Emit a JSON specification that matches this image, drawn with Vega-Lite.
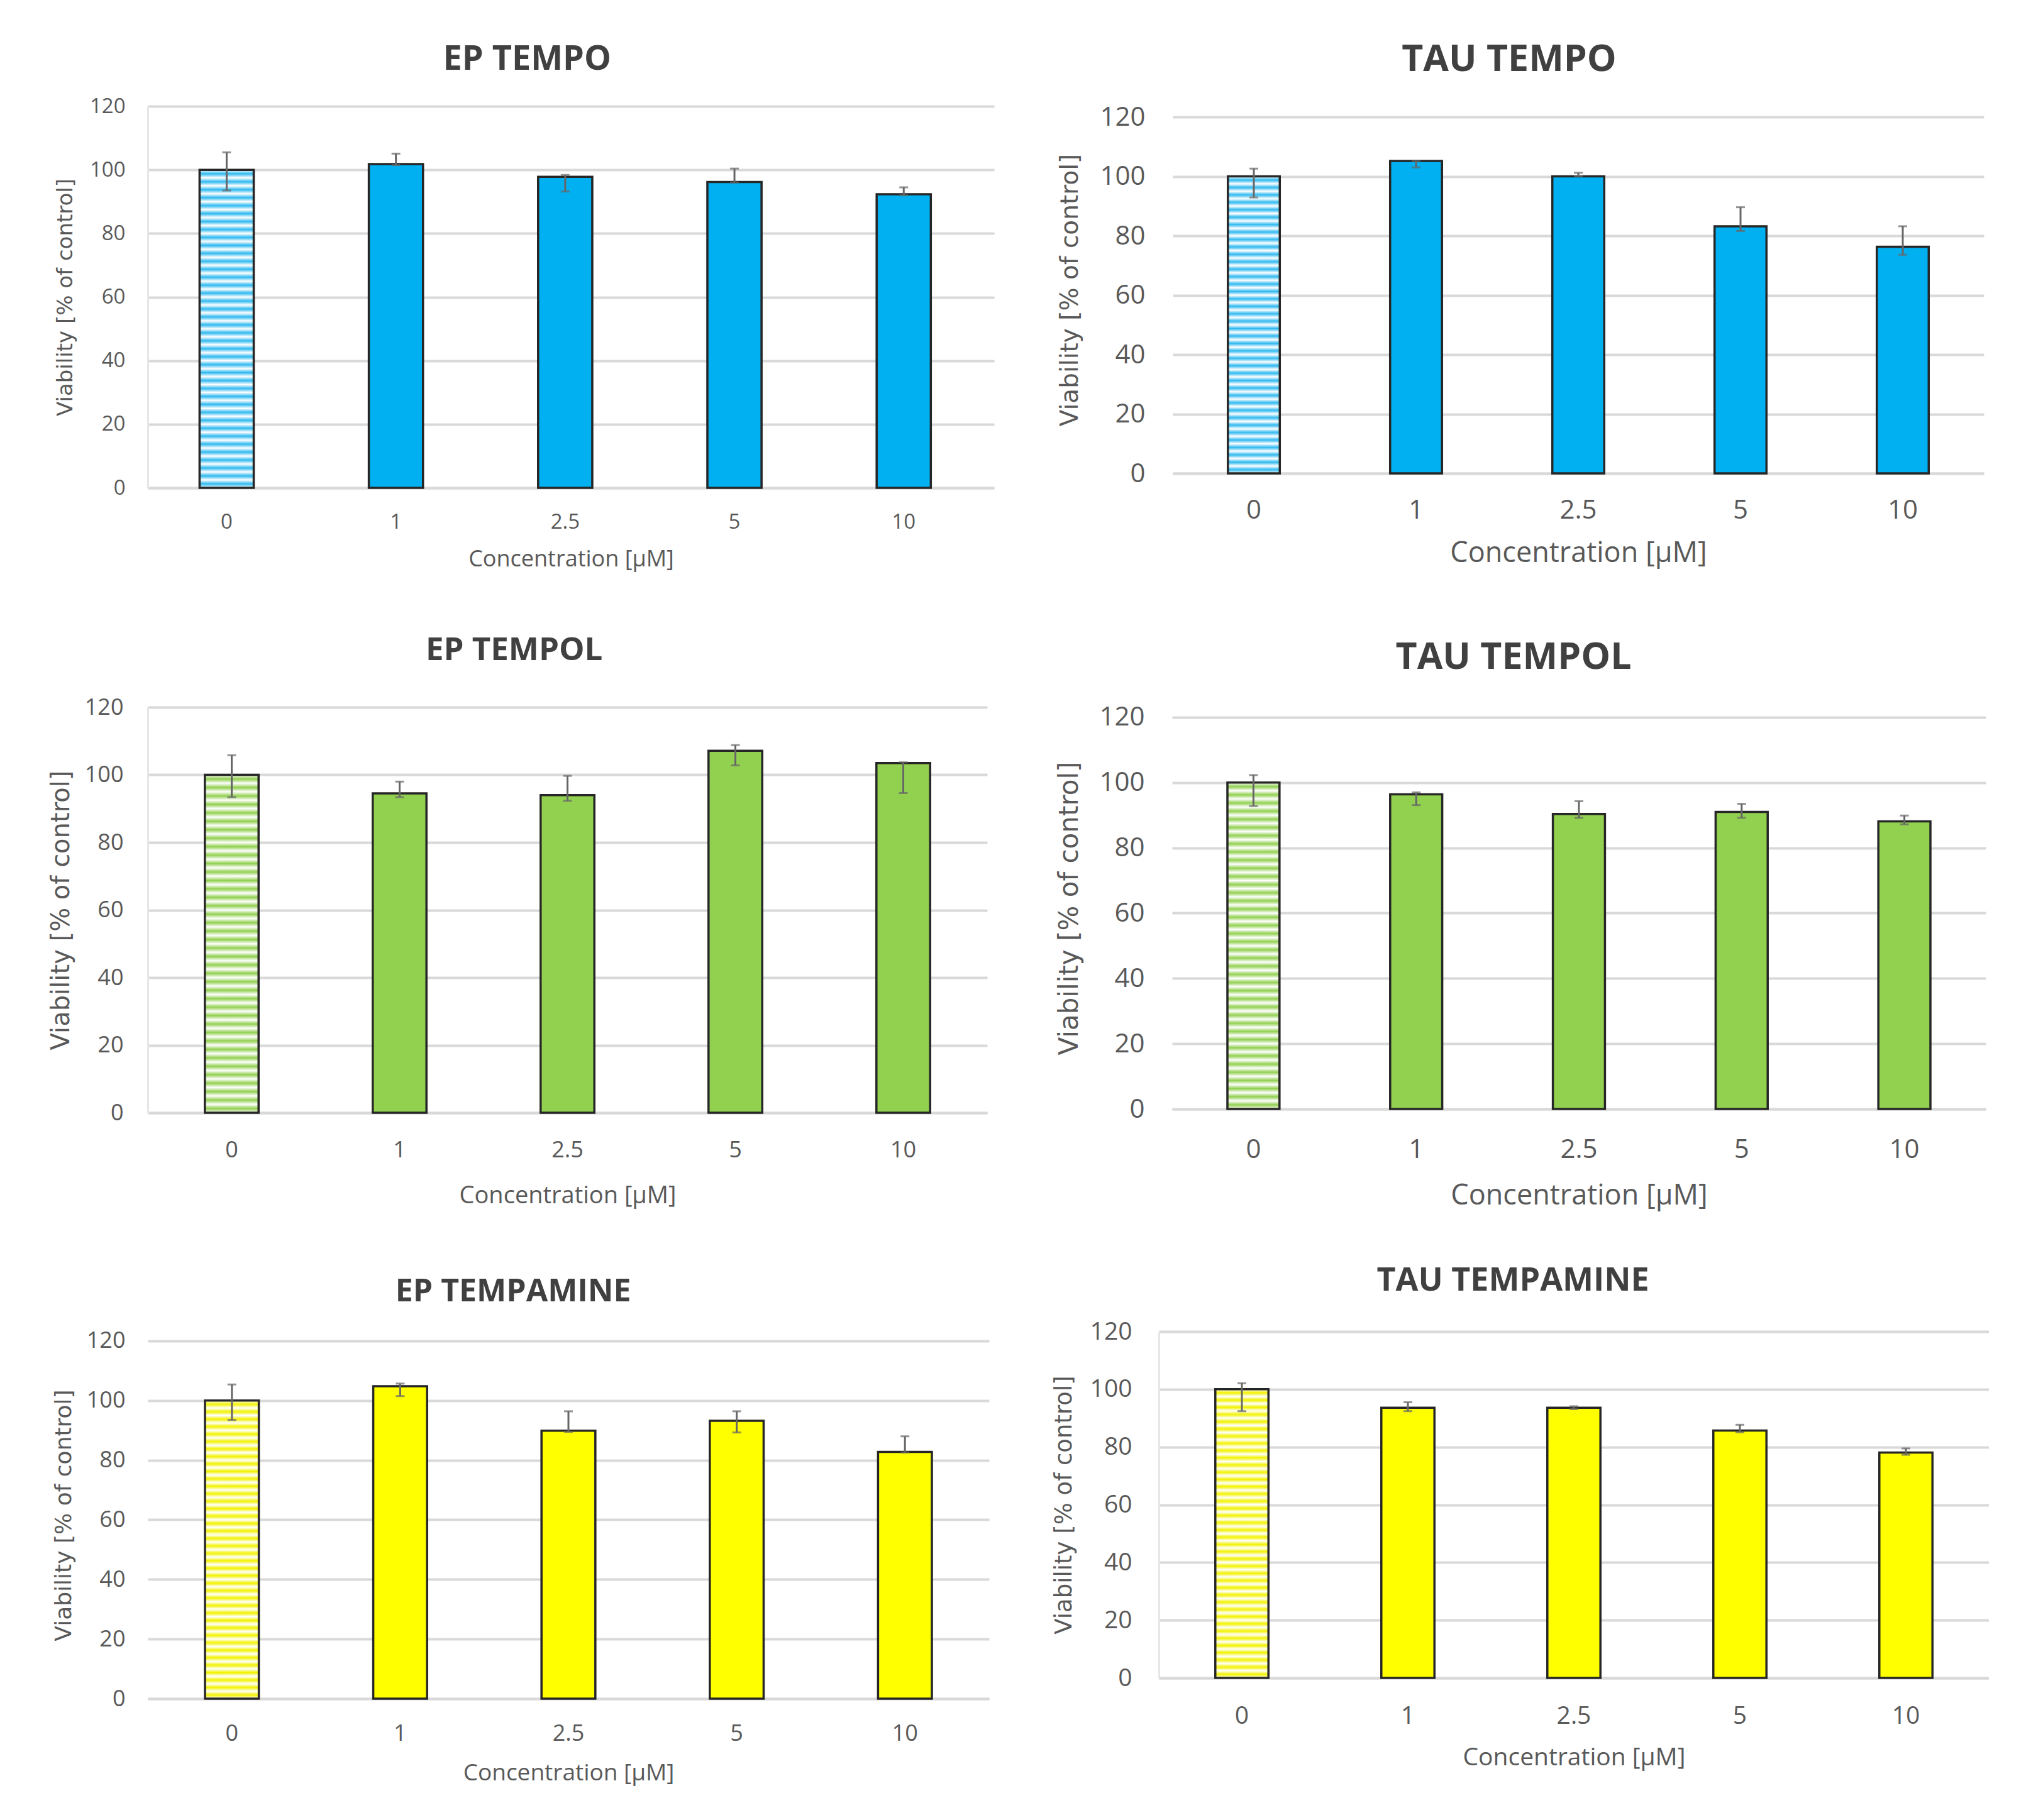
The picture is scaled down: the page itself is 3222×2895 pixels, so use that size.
{
  "$schema": "https://vega.github.io/schema/vega-lite/v6.json",
  "background": "white",
  "padding": {"left": 77, "top": 66, "right": 0, "bottom": 24},
  "datasets": {
    "viability": [
      {"panel": "EP TEMPO", "conc": "0", "value": 100, "lo": 93.5, "hi": 105.5},
      {"panel": "EP TEMPO", "conc": "1", "value": 101.8, "lo": 101.5, "hi": 105.1},
      {"panel": "EP TEMPO", "conc": "2.5", "value": 97.8, "lo": 93.2, "hi": 98.4},
      {"panel": "EP TEMPO", "conc": "5", "value": 96.2, "lo": 96.0, "hi": 100.4},
      {"panel": "EP TEMPO", "conc": "10", "value": 92.3, "lo": 92.0, "hi": 94.5},
      {"panel": "TAU TEMPO", "conc": "0", "value": 100, "lo": 92.9, "hi": 102.6},
      {"panel": "TAU TEMPO", "conc": "1", "value": 105.2, "lo": 103.0, "hi": 105.2},
      {"panel": "TAU TEMPO", "conc": "2.5", "value": 100, "lo": 100, "hi": 101.2},
      {"panel": "TAU TEMPO", "conc": "5", "value": 83.2, "lo": 81.6, "hi": 89.6},
      {"panel": "TAU TEMPO", "conc": "10", "value": 76.3, "lo": 73.6, "hi": 83.2},
      {"panel": "EP TEMPOL", "conc": "0", "value": 100, "lo": 93.4, "hi": 105.8},
      {"panel": "EP TEMPOL", "conc": "1", "value": 94.5, "lo": 93.4, "hi": 98.0},
      {"panel": "EP TEMPOL", "conc": "2.5", "value": 94.0, "lo": 92.3, "hi": 99.7},
      {"panel": "EP TEMPOL", "conc": "5", "value": 107.1, "lo": 102.8, "hi": 108.8},
      {"panel": "EP TEMPOL", "conc": "10", "value": 103.5, "lo": 94.6, "hi": 103.7},
      {"panel": "TAU TEMPOL", "conc": "0", "value": 100, "lo": 92.8, "hi": 102.3},
      {"panel": "TAU TEMPOL", "conc": "1", "value": 96.4, "lo": 93.1, "hi": 97.0},
      {"panel": "TAU TEMPOL", "conc": "2.5", "value": 90.4, "lo": 89.2, "hi": 94.3},
      {"panel": "TAU TEMPOL", "conc": "5", "value": 91.0, "lo": 89.2, "hi": 93.5},
      {"panel": "TAU TEMPOL", "conc": "10", "value": 88.1, "lo": 87.2, "hi": 89.9},
      {"panel": "EP TEMPAMINE", "conc": "0", "value": 100, "lo": 93.5, "hi": 105.4},
      {"panel": "EP TEMPAMINE", "conc": "1", "value": 104.8, "lo": 101.5, "hi": 105.7},
      {"panel": "EP TEMPAMINE", "conc": "2.5", "value": 89.9, "lo": 89.5, "hi": 96.4},
      {"panel": "EP TEMPAMINE", "conc": "5", "value": 93.2, "lo": 89.3, "hi": 96.4},
      {"panel": "EP TEMPAMINE", "conc": "10", "value": 82.8, "lo": 82.6, "hi": 88.0},
      {"panel": "TAU TEMPAMINE", "conc": "0", "value": 100, "lo": 92.4, "hi": 102.1},
      {"panel": "TAU TEMPAMINE", "conc": "1", "value": 93.6, "lo": 92.4, "hi": 95.5},
      {"panel": "TAU TEMPAMINE", "conc": "2.5", "value": 93.6, "lo": 93.1, "hi": 94.1},
      {"panel": "TAU TEMPAMINE", "conc": "5", "value": 85.7, "lo": 85.1, "hi": 87.7},
      {"panel": "TAU TEMPAMINE", "conc": "10", "value": 78.1, "lo": 77.3, "hi": 79.5}
    ]
  },
  "data": {"name": "viability"},
  "columns": 1,
  "align": "none",
  "spacing": 102,
  "concat": [
    {
      "spacing": 101,
      "hconcat": [
        {
          "width": 1346, "height": 607,
          "title": {"text": "EP TEMPO", "fontSize": 54, "offset": 31, "dx": 4},
          "transform": [{"filter": "datum.panel == 'EP TEMPO'"}],
          "encoding": {
            "x": {"field": "conc", "type": "ordinal", "sort": ["0", "1", "2.5", "5", "10"],
              "scale": {"paddingInner": 0.68, "paddingOuter": 0.34, "align": 0.45},
              "axis": {"title": "Concentration [µM]", "labelFontSize": 33, "labelPadding": 38, "titleFontSize": 36, "titlePadding": 25}}
          },
          "layer": [
            {
              "transform": [{"filter": "datum.conc == '0'"}],
              "mark": {"type": "bar", "stroke": "#262626", "strokeWidth": 3.5,
                "fill": {"gradient": "linear", "x1": 0, "y1": 0, "x2": 0, "y2": 1, "stops": [
                  {"offset": 0, "color": "#ffffff"}, {"offset": 0.0125, "color": "#2fb9f0"}, {"offset": 0.025, "color": "#ffffff"}, {"offset": 0.0375, "color": "#2fb9f0"}, {"offset": 0.05, "color": "#ffffff"}, {"offset": 0.0625, "color": "#2fb9f0"}, {"offset": 0.075, "color": "#ffffff"}, {"offset": 0.0875, "color": "#2fb9f0"}, {"offset": 0.1, "color": "#ffffff"}, {"offset": 0.1125, "color": "#2fb9f0"}, {"offset": 0.125, "color": "#ffffff"}, {"offset": 0.1375, "color": "#2fb9f0"}, {"offset": 0.15, "color": "#ffffff"}, {"offset": 0.1625, "color": "#2fb9f0"}, {"offset": 0.175, "color": "#ffffff"}, {"offset": 0.1875, "color": "#2fb9f0"}, {"offset": 0.2, "color": "#ffffff"}, {"offset": 0.2125, "color": "#2fb9f0"}, {"offset": 0.225, "color": "#ffffff"}, {"offset": 0.2375, "color": "#2fb9f0"}, {"offset": 0.25, "color": "#ffffff"}, {"offset": 0.2625, "color": "#2fb9f0"}, {"offset": 0.275, "color": "#ffffff"}, {"offset": 0.2875, "color": "#2fb9f0"}, {"offset": 0.3, "color": "#ffffff"}, {"offset": 0.3125, "color": "#2fb9f0"}, {"offset": 0.325, "color": "#ffffff"}, {"offset": 0.3375, "color": "#2fb9f0"}, {"offset": 0.35, "color": "#ffffff"}, {"offset": 0.3625, "color": "#2fb9f0"}, {"offset": 0.375, "color": "#ffffff"}, {"offset": 0.3875, "color": "#2fb9f0"}, {"offset": 0.4, "color": "#ffffff"}, {"offset": 0.4125, "color": "#2fb9f0"}, {"offset": 0.425, "color": "#ffffff"}, {"offset": 0.4375, "color": "#2fb9f0"}, {"offset": 0.45, "color": "#ffffff"}, {"offset": 0.4625, "color": "#2fb9f0"}, {"offset": 0.475, "color": "#ffffff"}, {"offset": 0.4875, "color": "#2fb9f0"}, {"offset": 0.5, "color": "#ffffff"}, {"offset": 0.5125, "color": "#2fb9f0"}, {"offset": 0.525, "color": "#ffffff"}, {"offset": 0.5375, "color": "#2fb9f0"}, {"offset": 0.55, "color": "#ffffff"}, {"offset": 0.5625, "color": "#2fb9f0"}, {"offset": 0.575, "color": "#ffffff"}, {"offset": 0.5875, "color": "#2fb9f0"}, {"offset": 0.6, "color": "#ffffff"}, {"offset": 0.6125, "color": "#2fb9f0"}, {"offset": 0.625, "color": "#ffffff"}, {"offset": 0.6375, "color": "#2fb9f0"}, {"offset": 0.65, "color": "#ffffff"}, {"offset": 0.6625, "color": "#2fb9f0"}, {"offset": 0.675, "color": "#ffffff"}, {"offset": 0.6875, "color": "#2fb9f0"}, {"offset": 0.7, "color": "#ffffff"}, {"offset": 0.7125, "color": "#2fb9f0"}, {"offset": 0.725, "color": "#ffffff"}, {"offset": 0.7375, "color": "#2fb9f0"}, {"offset": 0.75, "color": "#ffffff"}, {"offset": 0.7625, "color": "#2fb9f0"}, {"offset": 0.775, "color": "#ffffff"}, {"offset": 0.7875, "color": "#2fb9f0"}, {"offset": 0.8, "color": "#ffffff"}, {"offset": 0.8125, "color": "#2fb9f0"}, {"offset": 0.825, "color": "#ffffff"}, {"offset": 0.8375, "color": "#2fb9f0"}, {"offset": 0.85, "color": "#ffffff"}, {"offset": 0.8625, "color": "#2fb9f0"}, {"offset": 0.875, "color": "#ffffff"}, {"offset": 0.8875, "color": "#2fb9f0"}, {"offset": 0.9, "color": "#ffffff"}, {"offset": 0.9125, "color": "#2fb9f0"}, {"offset": 0.925, "color": "#ffffff"}, {"offset": 0.9375, "color": "#2fb9f0"}, {"offset": 0.95, "color": "#ffffff"}, {"offset": 0.9625, "color": "#2fb9f0"}, {"offset": 0.975, "color": "#ffffff"}, {"offset": 0.9875, "color": "#2fb9f0"}, {"offset": 1, "color": "#ffffff"}]}},
              "encoding": {"y": {"field": "value", "type": "quantitative", "title": "Viability [% of control]", "scale": {"domain": [0, 120], "nice": false},
                "axis": {"values": [0, 20, 40, 60, 80, 100, 120], "labelFontSize": 33, "labelPadding": 36, "titleFontSize": 34, "titlePadding": 21}}}
            },
            {
              "transform": [{"filter": "datum.conc != '0'"}],
              "mark": {"type": "bar", "fill": "#00b0f0", "stroke": "#262626", "strokeWidth": 3.5},
              "encoding": {"y": {"field": "value", "type": "quantitative", "title": "Viability [% of control]"}}
            },
            {
              "mark": {"type": "rule", "color": "#666666", "strokeWidth": 3},
              "encoding": {"y": {"field": "lo", "type": "quantitative", "title": "Viability [% of control]"}, "y2": {"field": "hi"}}
            },
            {
              "mark": {"type": "tick", "color": "#666666", "thickness": 3, "size": 14},
              "encoding": {"y": {"field": "lo", "type": "quantitative", "title": "Viability [% of control]"}}
            },
            {
              "mark": {"type": "tick", "color": "#666666", "thickness": 3, "size": 14},
              "encoding": {"y": {"field": "hi", "type": "quantitative", "title": "Viability [% of control]"}}
            }
          ]
        },
        {
          "width": 1290, "height": 584,
          "title": {"text": "TAU TEMPO", "fontSize": 59, "offset": 40, "dx": -19},
          "transform": [{"filter": "datum.panel == 'TAU TEMPO'"}],
          "encoding": {
            "x": {"field": "conc", "type": "ordinal", "sort": ["0", "1", "2.5", "5", "10"],
              "scale": {"paddingInner": 0.68, "paddingOuter": 0.34},
              "axis": {"title": "Concentration [µM]", "labelFontSize": 42, "labelPadding": 38, "titleFontSize": 45, "titlePadding": 25}}
          },
          "layer": [
            {
              "transform": [{"filter": "datum.conc == '0'"}],
              "mark": {"type": "bar", "stroke": "#262626", "strokeWidth": 3.5,
                "fill": {"gradient": "linear", "x1": 0, "y1": 0, "x2": 0, "y2": 1, "stops": [
                  {"offset": 0, "color": "#ffffff"}, {"offset": 0.0125, "color": "#2fb9f0"}, {"offset": 0.025, "color": "#ffffff"}, {"offset": 0.0375, "color": "#2fb9f0"}, {"offset": 0.05, "color": "#ffffff"}, {"offset": 0.0625, "color": "#2fb9f0"}, {"offset": 0.075, "color": "#ffffff"}, {"offset": 0.0875, "color": "#2fb9f0"}, {"offset": 0.1, "color": "#ffffff"}, {"offset": 0.1125, "color": "#2fb9f0"}, {"offset": 0.125, "color": "#ffffff"}, {"offset": 0.1375, "color": "#2fb9f0"}, {"offset": 0.15, "color": "#ffffff"}, {"offset": 0.1625, "color": "#2fb9f0"}, {"offset": 0.175, "color": "#ffffff"}, {"offset": 0.1875, "color": "#2fb9f0"}, {"offset": 0.2, "color": "#ffffff"}, {"offset": 0.2125, "color": "#2fb9f0"}, {"offset": 0.225, "color": "#ffffff"}, {"offset": 0.2375, "color": "#2fb9f0"}, {"offset": 0.25, "color": "#ffffff"}, {"offset": 0.2625, "color": "#2fb9f0"}, {"offset": 0.275, "color": "#ffffff"}, {"offset": 0.2875, "color": "#2fb9f0"}, {"offset": 0.3, "color": "#ffffff"}, {"offset": 0.3125, "color": "#2fb9f0"}, {"offset": 0.325, "color": "#ffffff"}, {"offset": 0.3375, "color": "#2fb9f0"}, {"offset": 0.35, "color": "#ffffff"}, {"offset": 0.3625, "color": "#2fb9f0"}, {"offset": 0.375, "color": "#ffffff"}, {"offset": 0.3875, "color": "#2fb9f0"}, {"offset": 0.4, "color": "#ffffff"}, {"offset": 0.4125, "color": "#2fb9f0"}, {"offset": 0.425, "color": "#ffffff"}, {"offset": 0.4375, "color": "#2fb9f0"}, {"offset": 0.45, "color": "#ffffff"}, {"offset": 0.4625, "color": "#2fb9f0"}, {"offset": 0.475, "color": "#ffffff"}, {"offset": 0.4875, "color": "#2fb9f0"}, {"offset": 0.5, "color": "#ffffff"}, {"offset": 0.5125, "color": "#2fb9f0"}, {"offset": 0.525, "color": "#ffffff"}, {"offset": 0.5375, "color": "#2fb9f0"}, {"offset": 0.55, "color": "#ffffff"}, {"offset": 0.5625, "color": "#2fb9f0"}, {"offset": 0.575, "color": "#ffffff"}, {"offset": 0.5875, "color": "#2fb9f0"}, {"offset": 0.6, "color": "#ffffff"}, {"offset": 0.6125, "color": "#2fb9f0"}, {"offset": 0.625, "color": "#ffffff"}, {"offset": 0.6375, "color": "#2fb9f0"}, {"offset": 0.65, "color": "#ffffff"}, {"offset": 0.6625, "color": "#2fb9f0"}, {"offset": 0.675, "color": "#ffffff"}, {"offset": 0.6875, "color": "#2fb9f0"}, {"offset": 0.7, "color": "#ffffff"}, {"offset": 0.7125, "color": "#2fb9f0"}, {"offset": 0.725, "color": "#ffffff"}, {"offset": 0.7375, "color": "#2fb9f0"}, {"offset": 0.75, "color": "#ffffff"}, {"offset": 0.7625, "color": "#2fb9f0"}, {"offset": 0.775, "color": "#ffffff"}, {"offset": 0.7875, "color": "#2fb9f0"}, {"offset": 0.8, "color": "#ffffff"}, {"offset": 0.8125, "color": "#2fb9f0"}, {"offset": 0.825, "color": "#ffffff"}, {"offset": 0.8375, "color": "#2fb9f0"}, {"offset": 0.85, "color": "#ffffff"}, {"offset": 0.8625, "color": "#2fb9f0"}, {"offset": 0.875, "color": "#ffffff"}, {"offset": 0.8875, "color": "#2fb9f0"}, {"offset": 0.9, "color": "#ffffff"}, {"offset": 0.9125, "color": "#2fb9f0"}, {"offset": 0.925, "color": "#ffffff"}, {"offset": 0.9375, "color": "#2fb9f0"}, {"offset": 0.95, "color": "#ffffff"}, {"offset": 0.9625, "color": "#2fb9f0"}, {"offset": 0.975, "color": "#ffffff"}, {"offset": 0.9875, "color": "#2fb9f0"}, {"offset": 1, "color": "#ffffff"}]}},
              "encoding": {"y": {"field": "value", "type": "quantitative", "title": "Viability [% of control]", "scale": {"domain": [0, 123.6], "nice": false},
                "axis": {"values": [0, 20, 40, 60, 80, 100, 120], "domain": false, "labelFontSize": 42, "labelPadding": 44, "titleFontSize": 39, "titlePadding": 27}}}
            },
            {
              "transform": [{"filter": "datum.conc != '0'"}],
              "mark": {"type": "bar", "fill": "#00b0f0", "stroke": "#262626", "strokeWidth": 3.5},
              "encoding": {"y": {"field": "value", "type": "quantitative", "title": "Viability [% of control]"}}
            },
            {
              "mark": {"type": "rule", "color": "#666666", "strokeWidth": 3},
              "encoding": {"y": {"field": "lo", "type": "quantitative", "title": "Viability [% of control]"}, "y2": {"field": "hi"}}
            },
            {
              "mark": {"type": "tick", "color": "#666666", "thickness": 3, "size": 14},
              "encoding": {"y": {"field": "lo", "type": "quantitative", "title": "Viability [% of control]"}}
            },
            {
              "mark": {"type": "tick", "color": "#666666", "thickness": 3, "size": 14},
              "encoding": {"y": {"field": "hi", "type": "quantitative", "title": "Viability [% of control]"}}
            }
          ]
        }
      ]
    },
    {
      "columns": 1,
      "align": "none",
      "spacing": 87,
      "concat": [
        {
          "spacing": 109,
          "hconcat": [
            {
              "width": 1335, "height": 645,
              "title": {"text": "EP TEMPOL", "fontSize": 51, "offset": 46, "dx": -6},
              "transform": [{"filter": "datum.panel == 'EP TEMPOL'"}],
              "encoding": {
                "x": {"field": "conc", "type": "ordinal", "sort": ["0", "1", "2.5", "5", "10"],
                  "scale": {"paddingInner": 0.68, "paddingOuter": 0.34},
                  "axis": {"title": "Concentration [µM]", "labelFontSize": 36, "labelPadding": 42, "titleFontSize": 38, "titlePadding": 36}}
              },
              "layer": [
                {
                  "transform": [{"filter": "datum.conc == '0'"}],
                  "mark": {"type": "bar", "stroke": "#262626", "strokeWidth": 3.5,
                    "fill": {"gradient": "linear", "x1": 0, "y1": 0, "x2": 0, "y2": 1, "stops": [
                      {"offset": 0, "color": "#ffffff"}, {"offset": 0.0125, "color": "#92d050"}, {"offset": 0.025, "color": "#ffffff"}, {"offset": 0.0375, "color": "#92d050"}, {"offset": 0.05, "color": "#ffffff"}, {"offset": 0.0625, "color": "#92d050"}, {"offset": 0.075, "color": "#ffffff"}, {"offset": 0.0875, "color": "#92d050"}, {"offset": 0.1, "color": "#ffffff"}, {"offset": 0.1125, "color": "#92d050"}, {"offset": 0.125, "color": "#ffffff"}, {"offset": 0.1375, "color": "#92d050"}, {"offset": 0.15, "color": "#ffffff"}, {"offset": 0.1625, "color": "#92d050"}, {"offset": 0.175, "color": "#ffffff"}, {"offset": 0.1875, "color": "#92d050"}, {"offset": 0.2, "color": "#ffffff"}, {"offset": 0.2125, "color": "#92d050"}, {"offset": 0.225, "color": "#ffffff"}, {"offset": 0.2375, "color": "#92d050"}, {"offset": 0.25, "color": "#ffffff"}, {"offset": 0.2625, "color": "#92d050"}, {"offset": 0.275, "color": "#ffffff"}, {"offset": 0.2875, "color": "#92d050"}, {"offset": 0.3, "color": "#ffffff"}, {"offset": 0.3125, "color": "#92d050"}, {"offset": 0.325, "color": "#ffffff"}, {"offset": 0.3375, "color": "#92d050"}, {"offset": 0.35, "color": "#ffffff"}, {"offset": 0.3625, "color": "#92d050"}, {"offset": 0.375, "color": "#ffffff"}, {"offset": 0.3875, "color": "#92d050"}, {"offset": 0.4, "color": "#ffffff"}, {"offset": 0.4125, "color": "#92d050"}, {"offset": 0.425, "color": "#ffffff"}, {"offset": 0.4375, "color": "#92d050"}, {"offset": 0.45, "color": "#ffffff"}, {"offset": 0.4625, "color": "#92d050"}, {"offset": 0.475, "color": "#ffffff"}, {"offset": 0.4875, "color": "#92d050"}, {"offset": 0.5, "color": "#ffffff"}, {"offset": 0.5125, "color": "#92d050"}, {"offset": 0.525, "color": "#ffffff"}, {"offset": 0.5375, "color": "#92d050"}, {"offset": 0.55, "color": "#ffffff"}, {"offset": 0.5625, "color": "#92d050"}, {"offset": 0.575, "color": "#ffffff"}, {"offset": 0.5875, "color": "#92d050"}, {"offset": 0.6, "color": "#ffffff"}, {"offset": 0.6125, "color": "#92d050"}, {"offset": 0.625, "color": "#ffffff"}, {"offset": 0.6375, "color": "#92d050"}, {"offset": 0.65, "color": "#ffffff"}, {"offset": 0.6625, "color": "#92d050"}, {"offset": 0.675, "color": "#ffffff"}, {"offset": 0.6875, "color": "#92d050"}, {"offset": 0.7, "color": "#ffffff"}, {"offset": 0.7125, "color": "#92d050"}, {"offset": 0.725, "color": "#ffffff"}, {"offset": 0.7375, "color": "#92d050"}, {"offset": 0.75, "color": "#ffffff"}, {"offset": 0.7625, "color": "#92d050"}, {"offset": 0.775, "color": "#ffffff"}, {"offset": 0.7875, "color": "#92d050"}, {"offset": 0.8, "color": "#ffffff"}, {"offset": 0.8125, "color": "#92d050"}, {"offset": 0.825, "color": "#ffffff"}, {"offset": 0.8375, "color": "#92d050"}, {"offset": 0.85, "color": "#ffffff"}, {"offset": 0.8625, "color": "#92d050"}, {"offset": 0.875, "color": "#ffffff"}, {"offset": 0.8875, "color": "#92d050"}, {"offset": 0.9, "color": "#ffffff"}, {"offset": 0.9125, "color": "#92d050"}, {"offset": 0.925, "color": "#ffffff"}, {"offset": 0.9375, "color": "#92d050"}, {"offset": 0.95, "color": "#ffffff"}, {"offset": 0.9625, "color": "#92d050"}, {"offset": 0.975, "color": "#ffffff"}, {"offset": 0.9875, "color": "#92d050"}, {"offset": 1, "color": "#ffffff"}]}},
                  "encoding": {"y": {"field": "value", "type": "quantitative", "title": "Viability [% of control]", "scale": {"domain": [0, 120], "nice": false},
                    "axis": {"values": [0, 20, 40, 60, 80, 100, 120], "labelFontSize": 36, "labelPadding": 39, "titleFontSize": 40, "titlePadding": 17}}}
                },
                {
                  "transform": [{"filter": "datum.conc != '0'"}],
                  "mark": {"type": "bar", "fill": "#92d050", "stroke": "#262626", "strokeWidth": 3.5},
                  "encoding": {"y": {"field": "value", "type": "quantitative", "title": "Viability [% of control]"}}
                },
                {
                  "mark": {"type": "rule", "color": "#666666", "strokeWidth": 3},
                  "encoding": {"y": {"field": "lo", "type": "quantitative", "title": "Viability [% of control]"}, "y2": {"field": "hi"}}
                },
                {
                  "mark": {"type": "tick", "color": "#666666", "thickness": 3, "size": 14},
                  "encoding": {"y": {"field": "lo", "type": "quantitative", "title": "Viability [% of control]"}}
                },
                {
                  "mark": {"type": "tick", "color": "#666666", "thickness": 3, "size": 14},
                  "encoding": {"y": {"field": "hi", "type": "quantitative", "title": "Viability [% of control]"}}
                }
              ]
            },
            {
              "width": 1294, "height": 639,
              "title": {"text": "TAU TEMPOL", "fontSize": 59, "offset": 44, "dx": -12},
              "transform": [{"filter": "datum.panel == 'TAU TEMPOL'"}],
              "encoding": {
                "x": {"field": "conc", "type": "ordinal", "sort": ["0", "1", "2.5", "5", "10"],
                  "scale": {"paddingInner": 0.68, "paddingOuter": 0.34},
                  "axis": {"title": "Concentration [µM]", "labelFontSize": 42, "labelPadding": 44, "titleFontSize": 45, "titlePadding": 30}}
              },
              "layer": [
                {
                  "transform": [{"filter": "datum.conc == '0'"}],
                  "mark": {"type": "bar", "stroke": "#262626", "strokeWidth": 3.5,
                    "fill": {"gradient": "linear", "x1": 0, "y1": 0, "x2": 0, "y2": 1, "stops": [
                      {"offset": 0, "color": "#ffffff"}, {"offset": 0.0125, "color": "#92d050"}, {"offset": 0.025, "color": "#ffffff"}, {"offset": 0.0375, "color": "#92d050"}, {"offset": 0.05, "color": "#ffffff"}, {"offset": 0.0625, "color": "#92d050"}, {"offset": 0.075, "color": "#ffffff"}, {"offset": 0.0875, "color": "#92d050"}, {"offset": 0.1, "color": "#ffffff"}, {"offset": 0.1125, "color": "#92d050"}, {"offset": 0.125, "color": "#ffffff"}, {"offset": 0.1375, "color": "#92d050"}, {"offset": 0.15, "color": "#ffffff"}, {"offset": 0.1625, "color": "#92d050"}, {"offset": 0.175, "color": "#ffffff"}, {"offset": 0.1875, "color": "#92d050"}, {"offset": 0.2, "color": "#ffffff"}, {"offset": 0.2125, "color": "#92d050"}, {"offset": 0.225, "color": "#ffffff"}, {"offset": 0.2375, "color": "#92d050"}, {"offset": 0.25, "color": "#ffffff"}, {"offset": 0.2625, "color": "#92d050"}, {"offset": 0.275, "color": "#ffffff"}, {"offset": 0.2875, "color": "#92d050"}, {"offset": 0.3, "color": "#ffffff"}, {"offset": 0.3125, "color": "#92d050"}, {"offset": 0.325, "color": "#ffffff"}, {"offset": 0.3375, "color": "#92d050"}, {"offset": 0.35, "color": "#ffffff"}, {"offset": 0.3625, "color": "#92d050"}, {"offset": 0.375, "color": "#ffffff"}, {"offset": 0.3875, "color": "#92d050"}, {"offset": 0.4, "color": "#ffffff"}, {"offset": 0.4125, "color": "#92d050"}, {"offset": 0.425, "color": "#ffffff"}, {"offset": 0.4375, "color": "#92d050"}, {"offset": 0.45, "color": "#ffffff"}, {"offset": 0.4625, "color": "#92d050"}, {"offset": 0.475, "color": "#ffffff"}, {"offset": 0.4875, "color": "#92d050"}, {"offset": 0.5, "color": "#ffffff"}, {"offset": 0.5125, "color": "#92d050"}, {"offset": 0.525, "color": "#ffffff"}, {"offset": 0.5375, "color": "#92d050"}, {"offset": 0.55, "color": "#ffffff"}, {"offset": 0.5625, "color": "#92d050"}, {"offset": 0.575, "color": "#ffffff"}, {"offset": 0.5875, "color": "#92d050"}, {"offset": 0.6, "color": "#ffffff"}, {"offset": 0.6125, "color": "#92d050"}, {"offset": 0.625, "color": "#ffffff"}, {"offset": 0.6375, "color": "#92d050"}, {"offset": 0.65, "color": "#ffffff"}, {"offset": 0.6625, "color": "#92d050"}, {"offset": 0.675, "color": "#ffffff"}, {"offset": 0.6875, "color": "#92d050"}, {"offset": 0.7, "color": "#ffffff"}, {"offset": 0.7125, "color": "#92d050"}, {"offset": 0.725, "color": "#ffffff"}, {"offset": 0.7375, "color": "#92d050"}, {"offset": 0.75, "color": "#ffffff"}, {"offset": 0.7625, "color": "#92d050"}, {"offset": 0.775, "color": "#ffffff"}, {"offset": 0.7875, "color": "#92d050"}, {"offset": 0.8, "color": "#ffffff"}, {"offset": 0.8125, "color": "#92d050"}, {"offset": 0.825, "color": "#ffffff"}, {"offset": 0.8375, "color": "#92d050"}, {"offset": 0.85, "color": "#ffffff"}, {"offset": 0.8625, "color": "#92d050"}, {"offset": 0.875, "color": "#ffffff"}, {"offset": 0.8875, "color": "#92d050"}, {"offset": 0.9, "color": "#ffffff"}, {"offset": 0.9125, "color": "#92d050"}, {"offset": 0.925, "color": "#ffffff"}, {"offset": 0.9375, "color": "#92d050"}, {"offset": 0.95, "color": "#ffffff"}, {"offset": 0.9625, "color": "#92d050"}, {"offset": 0.975, "color": "#ffffff"}, {"offset": 0.9875, "color": "#92d050"}, {"offset": 1, "color": "#ffffff"}]}},
                  "encoding": {"y": {"field": "value", "type": "quantitative", "title": "Viability [% of control]", "scale": {"domain": [0, 123.08], "nice": false},
                    "axis": {"values": [0, 20, 40, 60, 80, 100, 120], "domain": false, "labelFontSize": 42, "labelPadding": 44, "titleFontSize": 42, "titlePadding": 25}}}
                },
                {
                  "transform": [{"filter": "datum.conc != '0'"}],
                  "mark": {"type": "bar", "fill": "#92d050", "stroke": "#262626", "strokeWidth": 3.5},
                  "encoding": {"y": {"field": "value", "type": "quantitative", "title": "Viability [% of control]"}}
                },
                {
                  "mark": {"type": "rule", "color": "#666666", "strokeWidth": 3},
                  "encoding": {"y": {"field": "lo", "type": "quantitative", "title": "Viability [% of control]"}, "y2": {"field": "hi"}}
                },
                {
                  "mark": {"type": "tick", "color": "#666666", "thickness": 3, "size": 14},
                  "encoding": {"y": {"field": "lo", "type": "quantitative", "title": "Viability [% of control]"}}
                },
                {
                  "mark": {"type": "tick", "color": "#666666", "thickness": 3, "size": 14},
                  "encoding": {"y": {"field": "hi", "type": "quantitative", "title": "Viability [% of control]"}}
                }
              ]
            }
          ]
        },
        {
          "spacing": 100,
          "hconcat": [
            {
              "width": 1338, "height": 584,
              "title": {"text": "EP TEMPAMINE", "fontSize": 50, "offset": 35, "dx": -12},
              "transform": [{"filter": "datum.panel == 'EP TEMPAMINE'"}],
              "encoding": {
                "x": {"field": "conc", "type": "ordinal", "sort": ["0", "1", "2.5", "5", "10"],
                  "scale": {"paddingInner": 0.68, "paddingOuter": 0.34},
                  "axis": {"title": "Concentration [µM]", "labelFontSize": 36, "labelPadding": 38, "titleFontSize": 37, "titlePadding": 27}}
              },
              "layer": [
                {
                  "transform": [{"filter": "datum.conc == '0'"}],
                  "mark": {"type": "bar", "stroke": "#262626", "strokeWidth": 3.5,
                    "fill": {"gradient": "linear", "x1": 0, "y1": 0, "x2": 0, "y2": 1, "stops": [
                      {"offset": 0, "color": "#ffffff"}, {"offset": 0.0125, "color": "#f2f200"}, {"offset": 0.025, "color": "#ffffff"}, {"offset": 0.0375, "color": "#f2f200"}, {"offset": 0.05, "color": "#ffffff"}, {"offset": 0.0625, "color": "#f2f200"}, {"offset": 0.075, "color": "#ffffff"}, {"offset": 0.0875, "color": "#f2f200"}, {"offset": 0.1, "color": "#ffffff"}, {"offset": 0.1125, "color": "#f2f200"}, {"offset": 0.125, "color": "#ffffff"}, {"offset": 0.1375, "color": "#f2f200"}, {"offset": 0.15, "color": "#ffffff"}, {"offset": 0.1625, "color": "#f2f200"}, {"offset": 0.175, "color": "#ffffff"}, {"offset": 0.1875, "color": "#f2f200"}, {"offset": 0.2, "color": "#ffffff"}, {"offset": 0.2125, "color": "#f2f200"}, {"offset": 0.225, "color": "#ffffff"}, {"offset": 0.2375, "color": "#f2f200"}, {"offset": 0.25, "color": "#ffffff"}, {"offset": 0.2625, "color": "#f2f200"}, {"offset": 0.275, "color": "#ffffff"}, {"offset": 0.2875, "color": "#f2f200"}, {"offset": 0.3, "color": "#ffffff"}, {"offset": 0.3125, "color": "#f2f200"}, {"offset": 0.325, "color": "#ffffff"}, {"offset": 0.3375, "color": "#f2f200"}, {"offset": 0.35, "color": "#ffffff"}, {"offset": 0.3625, "color": "#f2f200"}, {"offset": 0.375, "color": "#ffffff"}, {"offset": 0.3875, "color": "#f2f200"}, {"offset": 0.4, "color": "#ffffff"}, {"offset": 0.4125, "color": "#f2f200"}, {"offset": 0.425, "color": "#ffffff"}, {"offset": 0.4375, "color": "#f2f200"}, {"offset": 0.45, "color": "#ffffff"}, {"offset": 0.4625, "color": "#f2f200"}, {"offset": 0.475, "color": "#ffffff"}, {"offset": 0.4875, "color": "#f2f200"}, {"offset": 0.5, "color": "#ffffff"}, {"offset": 0.5125, "color": "#f2f200"}, {"offset": 0.525, "color": "#ffffff"}, {"offset": 0.5375, "color": "#f2f200"}, {"offset": 0.55, "color": "#ffffff"}, {"offset": 0.5625, "color": "#f2f200"}, {"offset": 0.575, "color": "#ffffff"}, {"offset": 0.5875, "color": "#f2f200"}, {"offset": 0.6, "color": "#ffffff"}, {"offset": 0.6125, "color": "#f2f200"}, {"offset": 0.625, "color": "#ffffff"}, {"offset": 0.6375, "color": "#f2f200"}, {"offset": 0.65, "color": "#ffffff"}, {"offset": 0.6625, "color": "#f2f200"}, {"offset": 0.675, "color": "#ffffff"}, {"offset": 0.6875, "color": "#f2f200"}, {"offset": 0.7, "color": "#ffffff"}, {"offset": 0.7125, "color": "#f2f200"}, {"offset": 0.725, "color": "#ffffff"}, {"offset": 0.7375, "color": "#f2f200"}, {"offset": 0.75, "color": "#ffffff"}, {"offset": 0.7625, "color": "#f2f200"}, {"offset": 0.775, "color": "#ffffff"}, {"offset": 0.7875, "color": "#f2f200"}, {"offset": 0.8, "color": "#ffffff"}, {"offset": 0.8125, "color": "#f2f200"}, {"offset": 0.825, "color": "#ffffff"}, {"offset": 0.8375, "color": "#f2f200"}, {"offset": 0.85, "color": "#ffffff"}, {"offset": 0.8625, "color": "#f2f200"}, {"offset": 0.875, "color": "#ffffff"}, {"offset": 0.8875, "color": "#f2f200"}, {"offset": 0.9, "color": "#ffffff"}, {"offset": 0.9125, "color": "#f2f200"}, {"offset": 0.925, "color": "#ffffff"}, {"offset": 0.9375, "color": "#f2f200"}, {"offset": 0.95, "color": "#ffffff"}, {"offset": 0.9625, "color": "#f2f200"}, {"offset": 0.975, "color": "#ffffff"}, {"offset": 0.9875, "color": "#f2f200"}, {"offset": 1, "color": "#ffffff"}]}},
                  "encoding": {"y": {"field": "value", "type": "quantitative", "title": "Viability [% of control]", "scale": {"domain": [0, 123.16], "nice": false},
                    "axis": {"values": [0, 20, 40, 60, 80, 100, 120], "domain": false, "labelFontSize": 36, "labelPadding": 36, "titleFontSize": 36, "titlePadding": 17}}}
                },
                {
                  "transform": [{"filter": "datum.conc != '0'"}],
                  "mark": {"type": "bar", "fill": "#ffff00", "stroke": "#262626", "strokeWidth": 3.5},
                  "encoding": {"y": {"field": "value", "type": "quantitative", "title": "Viability [% of control]"}}
                },
                {
                  "mark": {"type": "rule", "color": "#666666", "strokeWidth": 3},
                  "encoding": {"y": {"field": "lo", "type": "quantitative", "title": "Viability [% of control]"}, "y2": {"field": "hi"}}
                },
                {
                  "mark": {"type": "tick", "color": "#666666", "thickness": 3, "size": 14},
                  "encoding": {"y": {"field": "lo", "type": "quantitative", "title": "Viability [% of control]"}}
                },
                {
                  "mark": {"type": "tick", "color": "#666666", "thickness": 3, "size": 14},
                  "encoding": {"y": {"field": "hi", "type": "quantitative", "title": "Viability [% of control]"}}
                }
              ]
            },
            {
              "width": 1320, "height": 551,
              "title": {"text": "TAU TEMPAMINE", "fontSize": 52, "offset": 35, "dx": -12},
              "transform": [{"filter": "datum.panel == 'TAU TEMPAMINE'"}],
              "encoding": {
                "x": {"field": "conc", "type": "ordinal", "sort": ["0", "1", "2.5", "5", "10"],
                  "scale": {"paddingInner": 0.68, "paddingOuter": 0.34},
                  "axis": {"title": "Concentration [µM]", "labelFontSize": 39, "labelPadding": 41, "titleFontSize": 39, "titlePadding": 27}}
              },
              "layer": [
                {
                  "transform": [{"filter": "datum.conc == '0'"}],
                  "mark": {"type": "bar", "stroke": "#262626", "strokeWidth": 3.5,
                    "fill": {"gradient": "linear", "x1": 0, "y1": 0, "x2": 0, "y2": 1, "stops": [
                      {"offset": 0, "color": "#ffffff"}, {"offset": 0.0125, "color": "#f2f200"}, {"offset": 0.025, "color": "#ffffff"}, {"offset": 0.0375, "color": "#f2f200"}, {"offset": 0.05, "color": "#ffffff"}, {"offset": 0.0625, "color": "#f2f200"}, {"offset": 0.075, "color": "#ffffff"}, {"offset": 0.0875, "color": "#f2f200"}, {"offset": 0.1, "color": "#ffffff"}, {"offset": 0.1125, "color": "#f2f200"}, {"offset": 0.125, "color": "#ffffff"}, {"offset": 0.1375, "color": "#f2f200"}, {"offset": 0.15, "color": "#ffffff"}, {"offset": 0.1625, "color": "#f2f200"}, {"offset": 0.175, "color": "#ffffff"}, {"offset": 0.1875, "color": "#f2f200"}, {"offset": 0.2, "color": "#ffffff"}, {"offset": 0.2125, "color": "#f2f200"}, {"offset": 0.225, "color": "#ffffff"}, {"offset": 0.2375, "color": "#f2f200"}, {"offset": 0.25, "color": "#ffffff"}, {"offset": 0.2625, "color": "#f2f200"}, {"offset": 0.275, "color": "#ffffff"}, {"offset": 0.2875, "color": "#f2f200"}, {"offset": 0.3, "color": "#ffffff"}, {"offset": 0.3125, "color": "#f2f200"}, {"offset": 0.325, "color": "#ffffff"}, {"offset": 0.3375, "color": "#f2f200"}, {"offset": 0.35, "color": "#ffffff"}, {"offset": 0.3625, "color": "#f2f200"}, {"offset": 0.375, "color": "#ffffff"}, {"offset": 0.3875, "color": "#f2f200"}, {"offset": 0.4, "color": "#ffffff"}, {"offset": 0.4125, "color": "#f2f200"}, {"offset": 0.425, "color": "#ffffff"}, {"offset": 0.4375, "color": "#f2f200"}, {"offset": 0.45, "color": "#ffffff"}, {"offset": 0.4625, "color": "#f2f200"}, {"offset": 0.475, "color": "#ffffff"}, {"offset": 0.4875, "color": "#f2f200"}, {"offset": 0.5, "color": "#ffffff"}, {"offset": 0.5125, "color": "#f2f200"}, {"offset": 0.525, "color": "#ffffff"}, {"offset": 0.5375, "color": "#f2f200"}, {"offset": 0.55, "color": "#ffffff"}, {"offset": 0.5625, "color": "#f2f200"}, {"offset": 0.575, "color": "#ffffff"}, {"offset": 0.5875, "color": "#f2f200"}, {"offset": 0.6, "color": "#ffffff"}, {"offset": 0.6125, "color": "#f2f200"}, {"offset": 0.625, "color": "#ffffff"}, {"offset": 0.6375, "color": "#f2f200"}, {"offset": 0.65, "color": "#ffffff"}, {"offset": 0.6625, "color": "#f2f200"}, {"offset": 0.675, "color": "#ffffff"}, {"offset": 0.6875, "color": "#f2f200"}, {"offset": 0.7, "color": "#ffffff"}, {"offset": 0.7125, "color": "#f2f200"}, {"offset": 0.725, "color": "#ffffff"}, {"offset": 0.7375, "color": "#f2f200"}, {"offset": 0.75, "color": "#ffffff"}, {"offset": 0.7625, "color": "#f2f200"}, {"offset": 0.775, "color": "#ffffff"}, {"offset": 0.7875, "color": "#f2f200"}, {"offset": 0.8, "color": "#ffffff"}, {"offset": 0.8125, "color": "#f2f200"}, {"offset": 0.825, "color": "#ffffff"}, {"offset": 0.8375, "color": "#f2f200"}, {"offset": 0.85, "color": "#ffffff"}, {"offset": 0.8625, "color": "#f2f200"}, {"offset": 0.875, "color": "#ffffff"}, {"offset": 0.8875, "color": "#f2f200"}, {"offset": 0.9, "color": "#ffffff"}, {"offset": 0.9125, "color": "#f2f200"}, {"offset": 0.925, "color": "#ffffff"}, {"offset": 0.9375, "color": "#f2f200"}, {"offset": 0.95, "color": "#ffffff"}, {"offset": 0.9625, "color": "#f2f200"}, {"offset": 0.975, "color": "#ffffff"}, {"offset": 0.9875, "color": "#f2f200"}, {"offset": 1, "color": "#ffffff"}]}},
                  "encoding": {"y": {"field": "value", "type": "quantitative", "title": "Viability [% of control]", "scale": {"domain": [0, 120], "nice": false},
                    "axis": {"values": [0, 20, 40, 60, 80, 100, 120], "labelFontSize": 39, "labelPadding": 43, "titleFontSize": 37, "titlePadding": 22}}}
                },
                {
                  "transform": [{"filter": "datum.conc != '0'"}],
                  "mark": {"type": "bar", "fill": "#ffff00", "stroke": "#262626", "strokeWidth": 3.5},
                  "encoding": {"y": {"field": "value", "type": "quantitative", "title": "Viability [% of control]"}}
                },
                {
                  "mark": {"type": "rule", "color": "#666666", "strokeWidth": 3},
                  "encoding": {"y": {"field": "lo", "type": "quantitative", "title": "Viability [% of control]"}, "y2": {"field": "hi"}}
                },
                {
                  "mark": {"type": "tick", "color": "#666666", "thickness": 3, "size": 14},
                  "encoding": {"y": {"field": "lo", "type": "quantitative", "title": "Viability [% of control]"}}
                },
                {
                  "mark": {"type": "tick", "color": "#666666", "thickness": 3, "size": 14},
                  "encoding": {"y": {"field": "hi", "type": "quantitative", "title": "Viability [% of control]"}}
                }
              ]
            }
          ]
        }
      ]
    }
  ],
  "config": {
    "font": "Open Sans",
    "view": {"stroke": null},
    "axis": {
      "gridColor": "#d9d9d9", "gridWidth": 4, "domainColor": "#d9d9d9", "domainWidth": 4,
      "ticks": false, "tickSize": 0,
      "labelColor": "#595959", "titleColor": "#595959", "titleFontWeight": "normal",
      "labelFont": "Open Sans", "titleFont": "Open Sans"
    },
    "axisX": {"grid": false, "labelAngle": 0},
    "axisY": {"titleFont": "DejaVu Sans", "domainColor": "#e6e6e6", "domainWidth": 3},
    "title": {"font": "Open Sans", "fontWeight": "bold", "color": "#404040", "anchor": "middle", "frame": "bounds"}
  }
}
